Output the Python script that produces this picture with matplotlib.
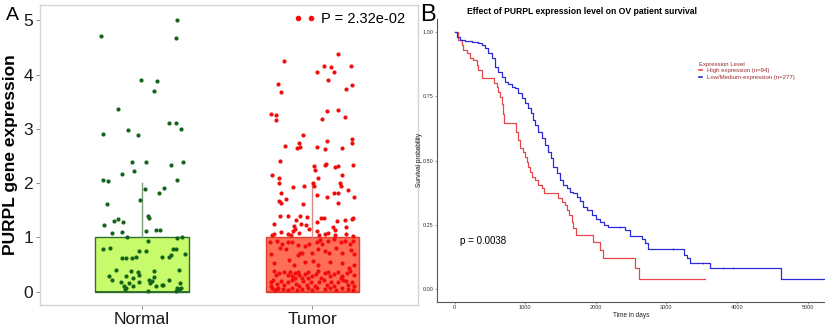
import matplotlib
matplotlib.use('Agg')
import matplotlib.pyplot as plt
from matplotlib.lines import Line2D
import numpy as np

plt.rcParams['font.family'] = ['Liberation Sans', 'DejaVu Sans']

# ---------------- Panel A data ----------------
categories = ['Normal', 'Tumor']

normal_jitter = [0.202, -0.239, 0.200, -0.008, 0.090, 0.070, -0.139, 0.159, 0.196, 0.228,
                 -0.229, -0.082, -0.025, -0.061, 0.025, 0.241, 0.169, -0.047, -0.118, -0.229,
                 -0.200, 0.206, 0.018, 0.131, 0.098, -0.014, -0.206, 0.035, 0.039, -0.165,
                 -0.143, -0.110, -0.227, -0.178, -0.118, 0.022, 0.082, 0.102, -0.090, 0.037,
                 0.202, 0.233, -0.231, -0.190, -0.020, 0.020, 0.182, 0.200, 0.249, -0.118,
                 -0.096, -0.059, -0.034, 0.116, 0.157, 0.167, -0.153, -0.065, -0.022, -0.020,
                 0.067, 0.216, -0.192, -0.176, -0.096, -0.051, 0.041, 0.072, 0.059, -0.125,
                 -0.078, -0.016, 0.159, 0.224, -0.106, -0.092, -0.100, -0.051, 0.047, 0.084,
                 0.119, 0.206, 0.216, 0.228, 0.200, 0.033, 0.124]
normal_values = [5.00, 4.71, 4.67, 3.90, 3.88, 3.70, 3.36, 3.11, 3.11, 3.00,
                 2.91, 2.98, 2.89, 2.39, 2.38, 2.39, 2.33, 2.22, 2.17, 2.06,
                 2.03, 2.06, 1.90, 1.91, 1.81, 1.68, 1.62, 1.39, 1.35, 1.31,
                 1.34, 1.28, 1.22, 1.08, 1.10, 1.12, 1.13, 1.13, 1.00, 0.94,
                 0.98, 1.00, 0.79, 0.80, 0.755, 0.75, 0.78, 0.79, 0.70, 0.62,
                 0.62, 0.62, 0.63, 0.63, 0.63, 0.67, 0.405, 0.39, 0.37, 0.31,
                 0.39, 0.405, 0.28, 0.22, 0.28, 0.25, 0.22, 0.27, 0.20, 0.18,
                 0.16, 0.18, 0.22, 0.16, 0.105, 0.075, 0.05, 0.11, 0.16, 0.105,
                 0.12, 0.07, 0.055, 0.07, 0.02, 0.02, 0.13]

tumor_jitter = [0.151, -0.165, 0.065, 0.110, 0.224, 0.027, 0.124, 0.090, -0.202, 0.235,
                -0.184, 0.198, -0.245, -0.212, -0.214, 0.086, 0.151, 0.057, 0.190, -0.053,
                -0.159, -0.080, -0.092, -0.071, 0.025, 0.071, 0.086, 0.176, 0.233, 0.235,
                -0.192, 0.012, 0.073, 0.080, 0.135, 0.149, 0.239, 0.018,
                -0.235, -0.194, -0.194, 0.031, 0.006, 0.012, -0.112, -0.047, 0.176, 0.159,
                0.165, 0.210, -0.184, 0.024, 0.129, 0.153, 0.243, 0.086, -0.194, -0.157,
                -0.184, -0.057, 0.151, -0.190, -0.145, -0.073, -0.031, -0.096, 0.051, 0.069,
                0.145, 0.192, 0.235, 0.241, -0.227, -0.065, 0.024, -0.110, -0.104, -0.112,
                -0.039, -0.020, 0.122, 0.133, 0.196, -0.224, -0.237, -0.186, -0.145, -0.125,
                -0.076, 0.024, 0.037, 0.075, 0.094, 0.196, 0.241, 0.131,
                -0.247, -0.206, -0.176, -0.141, -0.120, -0.086, -0.043, -0.020, 0.025, 0.045,
                0.059, 0.094, 0.127, 0.165, 0.192, 0.220, 0.241, -0.245, -0.188, -0.153,
                -0.073, -0.059, -0.086, 0.000, 0.031, 0.075, 0.100, 0.137, 0.173, 0.224,
                0.245, -0.227, -0.137, -0.110, -0.043, 0.006, 0.035, 0.104, 0.173, 0.212,
                0.245, -0.227, -0.216, -0.196, -0.165, -0.145, -0.131, -0.118, -0.102, -0.086,
                -0.076, -0.063, -0.043, -0.024, -0.004, 0.020, 0.035, 0.051, 0.071, 0.094,
                0.106, 0.129, 0.153, 0.176, 0.204, 0.222, 0.245, -0.245, -0.229, -0.210,
                -0.184, -0.165, -0.141, -0.122, -0.098, -0.078, -0.053, -0.033, -0.008, 0.016,
                0.039, 0.065, 0.084, 0.110, 0.129, 0.153, 0.182, 0.208, 0.231, 0.245,
                -0.239, -0.220, -0.200, -0.171, -0.145, -0.122, -0.092, -0.063, -0.027, -0.004,
                0.025, 0.075, 0.104, 0.137, 0.173, 0.208, 0.241, -0.245, -0.208, -0.102,
                -0.024, 0.165, 0.196]
tumor_values = [4.38, 4.25, 4.16, 4.14, 4.16, 4.04, 4.05, 3.90, 3.83, 3.81,
                3.67, 3.73, 3.28, 3.26, 3.17, 3.33, 3.35, 3.18, 3.22, 2.89,
                2.69, 2.73, 2.65, 2.66, 2.66, 2.62, 2.78, 2.65, 2.81, 2.74,
                2.41, 2.32, 2.34, 2.36, 2.29, 2.31, 2.33, 2.25,
                2.15, 2.10, 2.00, 2.09, 2.00, 1.95, 1.92, 1.94, 2.15, 2.00,
                1.95, 1.87, 1.81, 1.79, 1.81, 1.82, 1.74, 1.74, 1.67, 1.70,
                1.63, 1.62, 1.64, 1.40, 1.39, 1.39, 1.37, 1.32, 1.36, 1.36,
                1.30, 1.32, 1.34, 1.36, 1.25, 1.25, 1.28, 1.21, 1.16, 1.12,
                1.23, 1.16, 1.19, 1.13, 1.20, 1.07, 1.04, 1.10, 1.07, 1.04,
                1.08, 1.11, 1.05, 1.07, 1.08, 1.07, 1.03, 1.04,
                0.91, 0.93, 0.87, 0.92, 0.91, 0.86, 0.84, 0.87, 0.92, 0.96,
                0.87, 0.93, 0.97, 0.91, 0.93, 0.87, 0.93, 0.69, 0.80, 0.79,
                0.72, 0.71, 0.67, 0.71, 0.78, 0.75, 0.71, 0.80, 0.72, 0.77,
                0.69, 0.52, 0.58, 0.49, 0.55, 0.57, 0.49, 0.54, 0.52, 0.43,
                0.49, 0.38, 0.31, 0.34, 0.37, 0.31, 0.36, 0.28, 0.34, 0.37,
                0.31, 0.25, 0.32, 0.37, 0.28, 0.32, 0.38, 0.25, 0.34, 0.37,
                0.28, 0.32, 0.37, 0.29, 0.34, 0.38, 0.31, 0.18, 0.21, 0.15,
                0.20, 0.12, 0.17, 0.21, 0.15, 0.11, 0.20, 0.13, 0.18, 0.11,
                0.17, 0.21, 0.13, 0.18, 0.11, 0.17, 0.21, 0.13, 0.18, 0.11,
                0.06, 0.03, 0.07, 0.05, 0.03, 0.07, 0.04, 0.05, 0.06, 0.03,
                0.07, 0.05, 0.06, 0.04, 0.06, 0.05, 0.03, 0.11, 0.05, 0.25,
                0.25, 0.25, 0.20]

box_q1 = [0, 0]
box_median = [0, 0]
box_q3 = [1, 1]
box_whisker_high = [2, 2]
p_label = 'P = 2.32e-02'
y_ticks_A = [0, 1, 2, 3, 4, 5]

# ---------------- Panel B data ----------------
km_high_time = [0, 51, 99, 122, 170, 217, 264, 311, 335, 382, 560, 594, 618, 640, 665, 689, 699,
                864, 892, 925, 972, 995, 1019, 1040, 1066, 1099, 1137, 1184, 1231, 1269, 1467,
                1514, 1561, 1595, 1623, 1656, 1680, 1713, 1953, 2057, 2094, 2554, 2615, 3542]
km_high_surv = [1.0, 0.967, 0.948, 0.929, 0.916, 0.897, 0.890, 0.871, 0.851, 0.819, 0.800, 0.787,
                0.767, 0.745, 0.720, 0.680, 0.647, 0.612, 0.580, 0.547, 0.534, 0.515, 0.496,
                0.475, 0.457, 0.437, 0.424, 0.405, 0.392, 0.373, 0.353, 0.340, 0.327, 0.308,
                0.289, 0.263, 0.237, 0.211, 0.185, 0.153, 0.123, 0.082, 0.040, 0.040]
km_low_time = [0, 28, 75, 146, 240, 335, 382, 429, 476, 523, 571, 618, 665, 712, 759, 806, 854,
               901, 948, 995, 1043, 1080, 1113, 1137, 1184, 1231, 1278, 1326, 1363, 1396, 1444,
               1491, 1538, 1585, 1632, 1680, 1727, 1774, 1821, 1868, 1939, 2000, 2060, 2120,
               2175, 2412, 2483, 2648, 2695, 2742, 3247, 3285, 3332, 3615, 4620, 5250]
km_low_surv = [1.0, 0.978, 0.968, 0.962, 0.959, 0.955, 0.948, 0.935, 0.916, 0.897, 0.864, 0.845,
               0.825, 0.806, 0.796, 0.787, 0.780, 0.761, 0.742, 0.722, 0.703, 0.684, 0.658,
               0.638, 0.612, 0.586, 0.560, 0.534, 0.508, 0.476, 0.450, 0.424, 0.405, 0.392,
               0.379, 0.373, 0.360, 0.343, 0.321, 0.308, 0.290, 0.275, 0.262, 0.250, 0.241,
               0.231, 0.207, 0.194, 0.179, 0.156, 0.134, 0.120, 0.101, 0.082, 0.040, 0.040]
km_low_censor_time = [2340, 3094, 3519, 3800, 3943]
km_low_censor_surv = [0.241, 0.156, 0.101, 0.082, 0.082]
x_ticks_B = [0, 1000, 2000, 3000, 4000, 5000]
y_ticks_B = [0.00, 0.25, 0.50, 0.75, 1.00]
y_ticklabels_B = ['0.00', '0.25', '0.50', '0.75', '1.00']
legend_labels_B = ['High expression (n=94)', 'Low/Medium-expression (n=277)']
title_B = 'Effect of PURPL expression level on OV patient survival'
pval_B = 'p = 0.0038'

# ---------------- Figure ----------------
W, H = 825, 328
fig = plt.figure(figsize=(W / 100, H / 100), dpi=100)

# Panel A
axA = fig.add_axes([40 / W, 1 - 305 / H, 378 / W, 300 / H])
stats = []
for i in range(2):
    stats.append(dict(med=box_median[i], q1=box_q1[i], q3=box_q3[i],
                      whislo=box_q1[i], whishi=box_whisker_high[i], fliers=[]))
bp = axA.bxp(stats, positions=[1, 2], widths=0.55, patch_artist=True,
             showfliers=False, showcaps=False)
box_fill = ['#c8fb6c', '#ff6e58']
box_edge = ['#2f6e2f', '#e0402e']
whisk_col = ['#7d9c7d', '#d98a85']
for i in range(2):
    bp['boxes'][i].set_facecolor(box_fill[i])
    bp['boxes'][i].set_edgecolor(box_edge[i])
    bp['boxes'][i].set_linewidth(1.0)
    bp['medians'][i].set_color(box_edge[i])
    bp['medians'][i].set_linewidth(1.4)
for j, w in enumerate(bp['whiskers']):
    w.set_color(whisk_col[j // 2])
    w.set_linewidth(1.0)

axA.scatter(1 + np.array(normal_jitter), normal_values, s=9, color='#13631a',
            linewidths=0, zorder=3)
axA.scatter(2 + np.array(tumor_jitter), tumor_values, s=9, color='#f20d0d',
            linewidths=0, zorder=3)

axA.set_xlim(0.4, 2.62)
axA.set_ylim(-0.245, 5.28)
axA.set_xticks([1, 2])
axA.set_xticklabels(categories, fontsize=12.5, color='#1a1a1a')
axA.set_yticks(y_ticks_A)
axA.set_yticklabels([str(v) for v in y_ticks_A], fontsize=12.5, color='#1a1a1a')
axA.tick_params(length=3, width=0.6, color='#777777', pad=2)
for s in axA.spines.values():
    s.set_color('#d4d4d4')
    s.set_linewidth(1.0)
axA.set_ylabel('PURPL gene expression', fontsize=12.5, fontweight='bold', labelpad=4)
h = Line2D([], [], ls='none', marker='o', color='#f20d0d', markersize=3)
axA.legend([h], [p_label], loc='upper right', numpoints=2, frameon=False, fontsize=10.5,
           handlelength=1.5, handletextpad=0.4, borderaxespad=0.3, borderpad=0.2,
           bbox_to_anchor=(0.985, 1.0))
fig.text(6 / W, 1 - 7 / H, 'A', fontsize=14, ha='left', va='top')

# Panel B
axB = fig.add_axes([437 / W, 1 - 302 / H, (W - 437) / W, (302 - 18.8) / H])
red_c = '#e5484c'
blue_c = '#2a2ad8'
axB.step(km_high_time, km_high_surv, where='post', color=red_c, lw=0.9)
axB.step(km_low_time, km_low_surv, where='post', color=blue_c, lw=0.9)
axB.plot(km_low_censor_time, km_low_censor_surv, ls='none', marker='+', color=blue_c,
         markersize=2, mew=0.5)
axB.set_xlim(-250, 5245)
axB.set_ylim(-0.049, 1.05)
axB.set_xticks(x_ticks_B)
axB.set_xticklabels([str(v) for v in x_ticks_B], fontsize=4, color='#333333')
axB.set_yticks(y_ticks_B)
axB.set_yticklabels(y_ticklabels_B, fontsize=4, color='#333333')
axB.tick_params(length=1.5, width=0.4, color='#555555', pad=1)
for k in ['top', 'right']:
    axB.spines[k].set_visible(False)
for k in ['left', 'bottom']:
    axB.spines[k].set_color('#555555')
    axB.spines[k].set_linewidth(0.8)
axB.set_xlabel('Time in days', fontsize=4.7, labelpad=1, color='#222222')
axB.set_ylabel('Survival probability', fontsize=4.7, labelpad=0, color='#222222')
axB.text(0.06, 0.215, pval_B, transform=axB.transAxes, fontsize=7, va='center', ha='left')
handles = [Line2D([], [], color=red_c, lw=1.2), Line2D([], [], color=blue_c, lw=1.2)]
leg = axB.legend(handles, legend_labels_B, title='Expression Level', loc='upper left',
                 bbox_to_anchor=(699 / W, 1 - 62 / H), bbox_transform=fig.transFigure,
                 frameon=False, fontsize=4.3, title_fontsize=4.3, handlelength=0.5,
                 handletextpad=0.8, borderpad=0, borderaxespad=0, labelspacing=0.2,
                 labelcolor='#9c2b2e', alignment='left')
leg.get_title().set_color('#9c2b2e')
fig.text(420 / W, 1 - 4 / H, 'B', fontsize=17, ha='left', va='top')
fig.text(582 / W, 1 - 12 / H, title_B, fontsize=6.2, fontweight='bold', ha='center',
         va='center')

fig.savefig('out.png', dpi=100)
